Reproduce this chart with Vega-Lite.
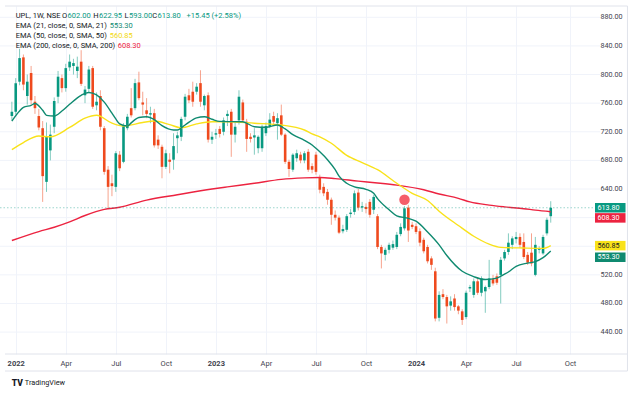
{
  "$schema": "https://vega.github.io/schema/vega-lite/v6.json",
  "width": 600,
  "height": 348,
  "autosize": {"type": "none"},
  "padding": {"left": 0, "top": 6, "right": 40, "bottom": 39},
  "background": "#ffffff",
  "config": {"view": {"stroke": null}, "font": "Roboto", "axis": {"labelOverlap": false}},
  "datasets": {
    "ticks": [
      {"v":440},{"v":480},{"v":520},{"v":560},{"v":600},{"v":640},
      {"v":680},{"v":720},{"v":760},{"v":800},{"v":840},{"v":880}
    ],
    "candles": [
      {"d":"2021-12-27","o":742,"h":762,"l":736,"c":748},
      {"d":"2022-01-03","o":748,"h":795,"l":744,"c":788},
      {"d":"2022-01-10","o":790,"h":836,"l":785,"c":823},
      {"d":"2022-01-17","o":824,"h":828,"l":778,"c":786},
      {"d":"2022-01-24","o":770,"h":800,"l":758,"c":790},
      {"d":"2022-01-31","o":802,"h":812,"l":758,"c":764},
      {"d":"2022-02-07","o":762,"h":770,"l":745,"c":753},
      {"d":"2022-02-14","o":742,"h":752,"l":722,"c":726},
      {"d":"2022-02-21","o":725,"h":735,"l":622,"c":658},
      {"d":"2022-02-28","o":650,"h":733,"l":636,"c":714},
      {"d":"2022-03-07","o":694,"h":730,"l":680,"c":716},
      {"d":"2022-03-14","o":727,"h":768,"l":718,"c":763},
      {"d":"2022-03-21","o":769,"h":805,"l":760,"c":797},
      {"d":"2022-03-28","o":795,"h":800,"l":775,"c":781},
      {"d":"2022-04-04","o":781,"h":815,"l":776,"c":809},
      {"d":"2022-04-11","o":810,"h":828,"l":805,"c":818},
      {"d":"2022-04-18","o":812,"h":822,"l":800,"c":816},
      {"d":"2022-04-25","o":805,"h":825,"l":795,"c":811},
      {"d":"2022-05-02","o":818,"h":834,"l":784,"c":787},
      {"d":"2022-05-09","o":771,"h":784,"l":760,"c":779},
      {"d":"2022-05-16","o":780,"h":812,"l":775,"c":807},
      {"d":"2022-05-23","o":809,"h":812,"l":752,"c":755},
      {"d":"2022-05-30","o":757,"h":775,"l":750,"c":762},
      {"d":"2022-06-06","o":770,"h":778,"l":722,"c":727},
      {"d":"2022-06-13","o":725,"h":728,"l":660,"c":664},
      {"d":"2022-06-20","o":667,"h":672,"l":612,"c":643},
      {"d":"2022-06-27","o":648,"h":660,"l":630,"c":644},
      {"d":"2022-07-04","o":643,"h":693,"l":636,"c":690},
      {"d":"2022-07-11","o":688,"h":693,"l":665,"c":669},
      {"d":"2022-07-18","o":678,"h":732,"l":676,"c":729},
      {"d":"2022-07-25","o":725,"h":745,"l":722,"c":741},
      {"d":"2022-08-01","o":753,"h":781,"l":740,"c":743},
      {"d":"2022-08-08","o":753,"h":794,"l":750,"c":788},
      {"d":"2022-08-15","o":789,"h":804,"l":764,"c":767},
      {"d":"2022-08-22","o":761,"h":776,"l":743,"c":758},
      {"d":"2022-08-29","o":750,"h":767,"l":739,"c":745},
      {"d":"2022-09-05","o":744,"h":755,"l":732,"c":746},
      {"d":"2022-09-12","o":746,"h":752,"l":698,"c":701},
      {"d":"2022-09-19","o":709,"h":715,"l":696,"c":701},
      {"d":"2022-09-26","o":699,"h":702,"l":655,"c":671},
      {"d":"2022-10-03","o":671,"h":695,"l":668,"c":690},
      {"d":"2022-10-10","o":681,"h":690,"l":662,"c":678},
      {"d":"2022-10-17","o":681,"h":718,"l":667,"c":700},
      {"d":"2022-10-24","o":711,"h":720,"l":690,"c":715},
      {"d":"2022-10-31","o":713,"h":741,"l":707,"c":738},
      {"d":"2022-11-07","o":741,"h":773,"l":736,"c":769},
      {"d":"2022-11-14","o":771,"h":780,"l":760,"c":764},
      {"d":"2022-11-21","o":776,"h":790,"l":755,"c":762},
      {"d":"2022-11-28","o":776,"h":788,"l":772,"c":783},
      {"d":"2022-12-05","o":788,"h":806,"l":755,"c":762},
      {"d":"2022-12-12","o":757,"h":772,"l":750,"c":770},
      {"d":"2022-12-19","o":771,"h":775,"l":705,"c":709},
      {"d":"2022-12-26","o":709,"h":720,"l":703,"c":713},
      {"d":"2023-01-02","o":716,"h":724,"l":710,"c":718},
      {"d":"2023-01-09","o":724,"h":728,"l":712,"c":717},
      {"d":"2023-01-16","o":720,"h":740,"l":715,"c":736},
      {"d":"2023-01-23","o":742,"h":750,"l":728,"c":745},
      {"d":"2023-01-30","o":748,"h":752,"l":685,"c":716},
      {"d":"2023-02-06","o":716,"h":735,"l":705,"c":727},
      {"d":"2023-02-13","o":736,"h":778,"l":730,"c":769},
      {"d":"2023-02-20","o":761,"h":765,"l":733,"c":736},
      {"d":"2023-02-27","o":734,"h":738,"l":692,"c":710},
      {"d":"2023-03-06","o":713,"h":718,"l":705,"c":710},
      {"d":"2023-03-13","o":712,"h":725,"l":688,"c":715},
      {"d":"2023-03-20","o":697,"h":715,"l":690,"c":713},
      {"d":"2023-03-27","o":697,"h":730,"l":692,"c":727},
      {"d":"2023-04-03","o":718,"h":733,"l":714,"c":728},
      {"d":"2023-04-10","o":728,"h":746,"l":725,"c":737},
      {"d":"2023-04-17","o":742,"h":748,"l":730,"c":734},
      {"d":"2023-04-24","o":732,"h":746,"l":709,"c":739},
      {"d":"2023-05-01","o":743,"h":758,"l":714,"c":716},
      {"d":"2023-05-08","o":716,"h":718,"l":675,"c":678},
      {"d":"2023-05-15","o":678,"h":681,"l":657,"c":668},
      {"d":"2023-05-22","o":667,"h":690,"l":664,"c":688},
      {"d":"2023-05-29","o":683,"h":695,"l":678,"c":690},
      {"d":"2023-06-05","o":688,"h":692,"l":676,"c":680},
      {"d":"2023-06-12","o":680,"h":693,"l":676,"c":690},
      {"d":"2023-06-19","o":692,"h":696,"l":664,"c":667},
      {"d":"2023-06-26","o":672,"h":676,"l":662,"c":667},
      {"d":"2023-07-03","o":688,"h":692,"l":660,"c":664},
      {"d":"2023-07-10","o":656,"h":660,"l":634,"c":639},
      {"d":"2023-07-17","o":643,"h":648,"l":630,"c":634},
      {"d":"2023-07-24","o":636,"h":640,"l":618,"c":625},
      {"d":"2023-07-31","o":625,"h":628,"l":590,"c":604},
      {"d":"2023-08-07","o":604,"h":610,"l":596,"c":600},
      {"d":"2023-08-14","o":600,"h":603,"l":577,"c":579},
      {"d":"2023-08-21","o":581,"h":590,"l":578,"c":584},
      {"d":"2023-08-28","o":583,"h":605,"l":580,"c":602},
      {"d":"2023-09-04","o":605,"h":612,"l":600,"c":607},
      {"d":"2023-09-11","o":608,"h":638,"l":604,"c":634},
      {"d":"2023-09-18","o":635,"h":640,"l":610,"c":614},
      {"d":"2023-09-25","o":614,"h":622,"l":608,"c":616},
      {"d":"2023-10-02","o":615,"h":620,"l":606,"c":612},
      {"d":"2023-10-09","o":622,"h":626,"l":600,"c":604},
      {"d":"2023-10-16","o":611,"h":632,"l":605,"c":629},
      {"d":"2023-10-23","o":602,"h":605,"l":556,"c":559},
      {"d":"2023-10-30","o":559,"h":562,"l":529,"c":550},
      {"d":"2023-11-06","o":548,"h":558,"l":540,"c":555},
      {"d":"2023-11-13","o":555,"h":565,"l":550,"c":562},
      {"d":"2023-11-20","o":558,"h":568,"l":555,"c":563},
      {"d":"2023-11-27","o":559,"h":580,"l":556,"c":576},
      {"d":"2023-12-04","o":577,"h":592,"l":574,"c":587},
      {"d":"2023-12-11","o":585,"h":616,"l":582,"c":613},
      {"d":"2023-12-18","o":614,"h":618,"l":566,"c":582},
      {"d":"2023-12-25","o":590,"h":594,"l":584,"c":587},
      {"d":"2024-01-01","o":588,"h":592,"l":577,"c":580},
      {"d":"2024-01-08","o":581,"h":585,"l":560,"c":565},
      {"d":"2024-01-15","o":569,"h":572,"l":550,"c":553},
      {"d":"2024-01-22","o":559,"h":562,"l":536,"c":539},
      {"d":"2024-01-29","o":543,"h":546,"l":527,"c":534},
      {"d":"2024-02-05","o":525,"h":530,"l":455,"c":459},
      {"d":"2024-02-12","o":460,"h":497,"l":455,"c":492},
      {"d":"2024-02-19","o":493,"h":500,"l":486,"c":489},
      {"d":"2024-02-26","o":489,"h":492,"l":452,"c":476},
      {"d":"2024-03-04","o":477,"h":490,"l":470,"c":483},
      {"d":"2024-03-11","o":487,"h":493,"l":470,"c":475},
      {"d":"2024-03-18","o":476,"h":478,"l":465,"c":470},
      {"d":"2024-03-25","o":469,"h":472,"l":450,"c":457},
      {"d":"2024-04-01","o":461,"h":498,"l":458,"c":495},
      {"d":"2024-04-08","o":501,"h":506,"l":496,"c":503},
      {"d":"2024-04-15","o":492,"h":515,"l":488,"c":511},
      {"d":"2024-04-22","o":511,"h":516,"l":492,"c":495},
      {"d":"2024-04-29","o":495,"h":518,"l":490,"c":515},
      {"d":"2024-05-06","o":497,"h":505,"l":467,"c":503},
      {"d":"2024-05-13","o":503,"h":541,"l":500,"c":515},
      {"d":"2024-05-20","o":514,"h":520,"l":505,"c":508},
      {"d":"2024-05-27","o":518,"h":522,"l":506,"c":509},
      {"d":"2024-06-03","o":520,"h":545,"l":480,"c":541},
      {"d":"2024-06-10","o":543,"h":555,"l":540,"c":552},
      {"d":"2024-06-17","o":552,"h":578,"l":548,"c":565},
      {"d":"2024-06-24","o":562,"h":574,"l":556,"c":571},
      {"d":"2024-07-01","o":570,"h":580,"l":564,"c":573},
      {"d":"2024-07-08","o":573,"h":578,"l":558,"c":562},
      {"d":"2024-07-15","o":566,"h":578,"l":542,"c":545},
      {"d":"2024-07-22","o":548,"h":552,"l":534,"c":537},
      {"d":"2024-07-29","o":551,"h":578,"l":532,"c":536},
      {"d":"2024-08-05","o":520,"h":573,"l":518,"c":562},
      {"d":"2024-08-12","o":555,"h":560,"l":550,"c":557},
      {"d":"2024-08-19","o":550,"h":576,"l":548,"c":573},
      {"d":"2024-08-26","o":578,"h":600,"l":575,"c":597},
      {"d":"2024-09-02","o":602,"h":622.95,"l":593,"c":613.8}
    ],
    "ema": [
      {"s":"EMA200","d":"2021-12-27","v":568},
      {"s":"EMA200","d":"2022-02-14","v":580.5},
      {"s":"EMA200","d":"2022-03-14","v":586.5},
      {"s":"EMA200","d":"2022-04-11","v":594},
      {"s":"EMA200","d":"2022-05-09","v":603},
      {"s":"EMA200","d":"2022-06-13","v":611.5},
      {"s":"EMA200","d":"2022-07-11","v":614.5},
      {"s":"EMA200","d":"2022-08-29","v":624.5},
      {"s":"EMA200","d":"2022-10-24","v":632},
      {"s":"EMA200","d":"2022-12-26","v":640},
      {"s":"EMA200","d":"2023-01-23","v":643},
      {"s":"EMA200","d":"2023-03-13","v":648},
      {"s":"EMA200","d":"2023-05-01","v":653.5},
      {"s":"EMA200","d":"2023-06-12","v":655.5},
      {"s":"EMA200","d":"2023-07-10","v":656},
      {"s":"EMA200","d":"2023-08-07","v":654.5},
      {"s":"EMA200","d":"2023-09-18","v":651},
      {"s":"EMA200","d":"2023-10-23","v":648.5},
      {"s":"EMA200","d":"2023-11-27","v":645.5},
      {"s":"EMA200","d":"2024-01-15","v":639},
      {"s":"EMA200","d":"2024-02-12","v":633},
      {"s":"EMA200","d":"2024-03-18","v":627},
      {"s":"EMA200","d":"2024-04-08","v":622},
      {"s":"EMA200","d":"2024-05-13","v":617.5},
      {"s":"EMA200","d":"2024-06-10","v":615},
      {"s":"EMA200","d":"2024-07-15","v":612.5},
      {"s":"EMA200","d":"2024-08-05","v":610.5},
      {"s":"EMA200","d":"2024-09-02","v":608.3},
      {"s":"EMA50","d":"2021-12-27","v":695},
      {"s":"EMA50","d":"2022-01-17","v":705},
      {"s":"EMA50","d":"2022-02-14","v":714},
      {"s":"EMA50","d":"2022-03-07","v":713},
      {"s":"EMA50","d":"2022-04-11","v":726},
      {"s":"EMA50","d":"2022-05-09","v":739},
      {"s":"EMA50","d":"2022-05-30","v":743},
      {"s":"EMA50","d":"2022-06-27","v":732},
      {"s":"EMA50","d":"2022-07-18","v":728},
      {"s":"EMA50","d":"2022-08-22","v":733},
      {"s":"EMA50","d":"2022-09-12","v":735},
      {"s":"EMA50","d":"2022-10-10","v":730},
      {"s":"EMA50","d":"2022-10-31","v":725.5},
      {"s":"EMA50","d":"2022-11-28","v":731},
      {"s":"EMA50","d":"2022-12-26","v":734},
      {"s":"EMA50","d":"2023-01-23","v":734},
      {"s":"EMA50","d":"2023-03-13","v":732},
      {"s":"EMA50","d":"2023-05-01","v":729.5},
      {"s":"EMA50","d":"2023-06-12","v":722.5},
      {"s":"EMA50","d":"2023-06-26","v":717},
      {"s":"EMA50","d":"2023-07-10","v":713},
      {"s":"EMA50","d":"2023-07-31","v":704},
      {"s":"EMA50","d":"2023-08-28","v":687},
      {"s":"EMA50","d":"2023-09-25","v":677},
      {"s":"EMA50","d":"2023-10-23","v":667},
      {"s":"EMA50","d":"2023-11-27","v":648},
      {"s":"EMA50","d":"2023-12-25","v":634},
      {"s":"EMA50","d":"2024-01-22","v":624},
      {"s":"EMA50","d":"2024-02-12","v":609},
      {"s":"EMA50","d":"2024-03-18","v":589},
      {"s":"EMA50","d":"2024-04-15","v":574},
      {"s":"EMA50","d":"2024-05-13","v":563},
      {"s":"EMA50","d":"2024-06-03","v":558.5},
      {"s":"EMA50","d":"2024-07-15","v":557.5},
      {"s":"EMA50","d":"2024-08-19","v":557},
      {"s":"EMA50","d":"2024-09-02","v":560.85},
      {"s":"EMA21","d":"2021-12-27","v":735},
      {"s":"EMA21","d":"2022-01-10","v":749},
      {"s":"EMA21","d":"2022-01-17","v":754},
      {"s":"EMA21","d":"2022-01-31","v":757},
      {"s":"EMA21","d":"2022-02-07","v":759.5},
      {"s":"EMA21","d":"2022-02-21","v":750},
      {"s":"EMA21","d":"2022-02-28","v":743},
      {"s":"EMA21","d":"2022-03-14","v":742},
      {"s":"EMA21","d":"2022-03-28","v":749},
      {"s":"EMA21","d":"2022-04-11","v":758.5},
      {"s":"EMA21","d":"2022-05-02","v":771},
      {"s":"EMA21","d":"2022-05-16","v":775},
      {"s":"EMA21","d":"2022-05-30","v":771.5},
      {"s":"EMA21","d":"2022-06-13","v":761.5},
      {"s":"EMA21","d":"2022-06-27","v":746},
      {"s":"EMA21","d":"2022-07-04","v":738},
      {"s":"EMA21","d":"2022-07-11","v":731},
      {"s":"EMA21","d":"2022-07-25","v":728},
      {"s":"EMA21","d":"2022-08-01","v":732.5},
      {"s":"EMA21","d":"2022-08-15","v":740},
      {"s":"EMA21","d":"2022-08-29","v":741},
      {"s":"EMA21","d":"2022-09-12","v":737},
      {"s":"EMA21","d":"2022-09-26","v":728.5},
      {"s":"EMA21","d":"2022-10-17","v":722.5},
      {"s":"EMA21","d":"2022-10-24","v":722.5},
      {"s":"EMA21","d":"2022-11-07","v":729.5},
      {"s":"EMA21","d":"2022-11-28","v":739.5},
      {"s":"EMA21","d":"2022-12-12","v":741},
      {"s":"EMA21","d":"2022-12-26","v":737.5},
      {"s":"EMA21","d":"2023-01-09","v":734.5},
      {"s":"EMA21","d":"2023-02-20","v":734},
      {"s":"EMA21","d":"2023-03-13","v":727},
      {"s":"EMA21","d":"2023-04-03","v":726.3},
      {"s":"EMA21","d":"2023-04-24","v":729.5},
      {"s":"EMA21","d":"2023-05-08","v":724},
      {"s":"EMA21","d":"2023-05-22","v":716},
      {"s":"EMA21","d":"2023-06-12","v":708},
      {"s":"EMA21","d":"2023-06-26","v":701.5},
      {"s":"EMA21","d":"2023-07-10","v":692},
      {"s":"EMA21","d":"2023-07-24","v":681},
      {"s":"EMA21","d":"2023-08-07","v":667},
      {"s":"EMA21","d":"2023-08-14","v":658},
      {"s":"EMA21","d":"2023-08-28","v":648},
      {"s":"EMA21","d":"2023-09-11","v":643},
      {"s":"EMA21","d":"2023-10-02","v":639.6},
      {"s":"EMA21","d":"2023-10-16","v":634},
      {"s":"EMA21","d":"2023-10-23","v":626.5},
      {"s":"EMA21","d":"2023-11-13","v":611},
      {"s":"EMA21","d":"2023-11-27","v":602.5},
      {"s":"EMA21","d":"2023-12-18","v":599},
      {"s":"EMA21","d":"2024-01-01","v":595},
      {"s":"EMA21","d":"2024-01-22","v":580},
      {"s":"EMA21","d":"2024-02-12","v":562},
      {"s":"EMA21","d":"2024-02-26","v":547},
      {"s":"EMA21","d":"2024-03-25","v":525},
      {"s":"EMA21","d":"2024-04-15","v":517.5},
      {"s":"EMA21","d":"2024-05-06","v":513.5},
      {"s":"EMA21","d":"2024-05-27","v":515.5},
      {"s":"EMA21","d":"2024-06-10","v":521},
      {"s":"EMA21","d":"2024-06-17","v":524},
      {"s":"EMA21","d":"2024-07-01","v":532},
      {"s":"EMA21","d":"2024-07-22","v":536.5},
      {"s":"EMA21","d":"2024-08-05","v":538.5},
      {"s":"EMA21","d":"2024-08-19","v":544},
      {"s":"EMA21","d":"2024-09-02","v":553.3}
    ],
    "boxes": [
      {"s":"close","v":613.8,"t":"613.80"},
      {"s":"EMA200","v":608.3,"t":"608.30"},
      {"s":"EMA50","v":560.85,"t":"560.85"},
      {"s":"EMA21","v":553.3,"t":"553.30"}
    ],
    "signal": [{"d":"2023-12-11","p":625}]
  },
  "layer": [
    {
      "data": {"name": "ticks"},
      "layer": [
        {
          "mark": {"type": "rule", "color": "#f0f3fa", "strokeWidth": 1},
          "encoding": {
            "y": {"field": "v", "type": "quantitative", "axis": null,
                  "scale": {"domain": [409.4, 895.8], "nice": false, "zero": false}}
          }
        },
        {
          "transform": [{"filter": "datum.v != 560 && datum.v != 600"}],
          "mark": {"type": "text", "align": "left", "baseline": "middle", "fontSize": 7.2, "font": "Roboto", "color": "#3f434e", "dx": 5.5},
          "encoding": {
            "x": {"datum": {"year": 2024, "month": 11, "date": 21, "hours": 11, "minutes": 30, "utc": true}, "type": "temporal"},
            "y": {"field": "v", "type": "quantitative", "axis": null},
            "text": {"field": "v", "type": "quantitative", "format": ".2f"}
          }
        }
      ]
    },
    {
      "data": {"name": "candles"},
      "layer": [
        {
          "mark": {"type": "rule", "strokeWidth": 1, "opacity": 0.5},
          "encoding": {
            "x": {
              "field": "d", "type": "temporal",
              "scale": {"type": "utc", "domain": [
                {"year": 2021, "month": 12, "date": 14, "hours": 12, "utc": true},
                {"year": 2024, "month": 11, "date": 21, "hours": 11, "minutes": 30, "utc": true}
              ]},
              "axis": {
                "title": null,
                "values": [
                  {"year": 2022, "month": 1, "date": 3, "utc": true},
                  {"year": 2022, "month": 4, "date": 4, "utc": true},
                  {"year": 2022, "month": 7, "date": 4, "utc": true},
                  {"year": 2022, "month": 10, "date": 3, "utc": true},
                  {"year": 2023, "month": 1, "date": 2, "utc": true},
                  {"year": 2023, "month": 4, "date": 3, "utc": true},
                  {"year": 2023, "month": 7, "date": 3, "utc": true},
                  {"year": 2023, "month": 10, "date": 2, "utc": true},
                  {"year": 2024, "month": 1, "date": 1, "utc": true},
                  {"year": 2024, "month": 4, "date": 1, "utc": true},
                  {"year": 2024, "month": 7, "date": 1, "utc": true},
                  {"year": 2024, "month": 10, "date": 7, "utc": true}
                ],
                "labelExpr": "utcmonth(datum.value) == 0 ? utcFormat(datum.value, '%Y') : utcFormat(datum.value, '%b')",
                "labelFontWeight": {"condition": {"test": "utcmonth(datum.value) == 0", "value": "bold"}, "value": "normal"},
                "grid": true, "gridColor": "#f0f3fa", "ticks": false, "domain": false,
                "labelPadding": 5, "labelFontSize": 7.5, "labelColor": "#3f434e",
                "labelFont": "Roboto", "labelOverlap": false, "labelFlush": false
              }
            },
            "y": {"field": "l", "type": "quantitative", "axis": null},
            "y2": {"field": "h"},
            "color": {"condition": {"test": "datum.c >= datum.o", "value": "#089981"}, "value": "#ef4a1e"}
          }
        },
        {
          "mark": {"type": "bar", "size": 2.6},
          "encoding": {
            "x": {"field": "d", "type": "temporal"},
            "y": {"field": "o", "type": "quantitative", "axis": null},
            "y2": {"field": "c"},
            "color": {"condition": {"test": "datum.c >= datum.o", "value": "#089981"}, "value": "#ef4a1e"}
          }
        }
      ]
    },
    {
      "data": {"name": "ema"},
      "mark": {"type": "line", "interpolate": "monotone", "strokeWidth": 1.4},
      "encoding": {
        "x": {"field": "d", "type": "temporal"},
        "y": {"field": "v", "type": "quantitative", "axis": null},
        "color": {"field": "s", "type": "nominal", "legend": null,
          "scale": {"domain": ["EMA21", "EMA50", "EMA200", "close"], "range": ["#0f8a70", "#f9e21a", "#ec2340", "#089981"]}}
      }
    },
    {
      "data": {"values": [{}]},
      "mark": {"type": "rule", "strokeDash": [1.5, 2], "strokeWidth": 0.8, "color": "#089981", "opacity": 0.5},
      "encoding": {"y": {"datum": 613.8, "axis": null}}
    },
    {
      "data": {"values": [{}]},
      "layer": [
        {"mark": {"type": "rule", "color": "#e0e3eb", "strokeWidth": 1},
         "encoding": {"x": {"datum": {"year": 2021, "month": 12, "date": 14, "hours": 12, "utc": true}, "type": "temporal"},
                      "x2": {"datum": {"year": 2025, "month": 1, "date": 19, "hours": 12, "utc": true}},
                      "y": {"datum": 895.8, "axis": null}}},
        {"mark": {"type": "rule", "color": "#e0e3eb", "strokeWidth": 1},
         "encoding": {"x": {"datum": {"year": 2021, "month": 12, "date": 14, "hours": 12, "utc": true}, "type": "temporal"},
                      "x2": {"datum": {"year": 2025, "month": 1, "date": 19, "hours": 12, "utc": true}},
                      "y": {"datum": 409.4, "axis": null}}},
        {"mark": {"type": "rule", "color": "#e0e3eb", "strokeWidth": 1},
         "encoding": {"x": {"datum": {"year": 2021, "month": 12, "date": 14, "hours": 12, "utc": true}, "type": "temporal"},
                      "x2": {"datum": {"year": 2025, "month": 1, "date": 19, "hours": 12, "utc": true}},
                      "y": {"datum": 385.6, "axis": null}}},
        {"mark": {"type": "rule", "color": "#e0e3eb", "strokeWidth": 1},
         "encoding": {"x": {"datum": {"year": 2025, "month": 1, "date": 19, "hours": 12, "utc": true}, "type": "temporal"},
                      "y": {"datum": 895.8, "axis": null}, "y2": {"datum": 385.6}}}
      ]
    },
    {
      "data": {"name": "signal"},
      "mark": {"type": "point", "filled": true, "size": 110, "color": "#f23645", "opacity": 0.8},
      "encoding": {
        "x": {"field": "d", "type": "temporal"},
        "y": {"field": "p", "type": "quantitative", "axis": null}
      }
    },
    {
      "data": {"name": "boxes"},
      "layer": [
        {
          "transform": [{"filter": "datum.s == 'close' || datum.s == 'EMA50'"}],
          "mark": {"type": "rule", "strokeWidth": 9.5, "strokeCap": "butt"},
          "encoding": {
            "x": {"datum": {"year": 2024, "month": 11, "date": 21, "hours": 11, "minutes": 30, "utc": true}, "type": "temporal"},
            "x2": {"datum": {"year": 2025, "month": 1, "date": 16, "utc": true}},
            "y": {"field": "v", "type": "quantitative", "axis": null},
            "color": {"field": "s", "type": "nominal", "legend": null,
              "scale": {"domain": ["EMA21", "EMA50", "EMA200", "close"], "range": ["#0f8a70", "#f9e21a", "#ec2340", "#089981"]}}
          }
        },
        {
          "transform": [{"filter": "datum.s == 'EMA200' || datum.s == 'EMA21'"}],
          "mark": {"type": "rule", "strokeWidth": 9.5, "strokeCap": "butt", "yOffset": 6.2},
          "encoding": {
            "x": {"datum": {"year": 2024, "month": 11, "date": 21, "hours": 11, "minutes": 30, "utc": true}, "type": "temporal"},
            "x2": {"datum": {"year": 2025, "month": 1, "date": 16, "utc": true}},
            "y": {"field": "v", "type": "quantitative", "axis": null},
            "color": {"field": "s", "type": "nominal", "legend": null,
              "scale": {"domain": ["EMA21", "EMA50", "EMA200", "close"], "range": ["#0f8a70", "#f9e21a", "#ec2340", "#089981"]}}
          }
        },
        {
          "transform": [{"filter": "datum.s == 'close' || datum.s == 'EMA50'"}],
          "mark": {"type": "text", "align": "left", "baseline": "middle", "fontSize": 7.2, "font": "Roboto", "dx": 2.5},
          "encoding": {
            "x": {"datum": {"year": 2024, "month": 11, "date": 21, "hours": 11, "minutes": 30, "utc": true}, "type": "temporal"},
            "y": {"field": "v", "type": "quantitative", "axis": null},
            "text": {"field": "t"},
            "color": {"condition": {"test": "datum.s == 'EMA50'", "value": "#131722"}, "value": "#ffffff"}
          }
        },
        {
          "transform": [{"filter": "datum.s == 'EMA200' || datum.s == 'EMA21'"}],
          "mark": {"type": "text", "align": "left", "baseline": "middle", "fontSize": 7.2, "font": "Roboto", "dx": 2.5, "dy": 6.2},
          "encoding": {
            "x": {"datum": {"year": 2024, "month": 11, "date": 21, "hours": 11, "minutes": 30, "utc": true}, "type": "temporal"},
            "y": {"field": "v", "type": "quantitative", "axis": null},
            "text": {"field": "t"},
            "color": {"value": "#ffffff"}
          }
        }
      ]
    },
    {
      "data": {"values": [{}]},
      "layer": [
        {"mark": {"type": "text", "align": "left", "baseline": "middle", "fontSize": 7.5, "font": "Roboto", "color": "#131722"},
         "encoding": {"x": {"datum": {"year": 2022, "month": 1, "date": 3, "utc": true}, "type": "temporal"}, "y": {"datum": 882.2, "axis": null}, "text": {"value": "UPL, 1W, NSE"}}},
        {"mark": {"type": "text", "align": "left", "baseline": "middle", "fontSize": 7.5, "font": "Roboto", "color": "#131722", "dx": 46.4},
         "encoding": {"x": {"datum": {"year": 2022, "month": 1, "date": 3, "utc": true}, "type": "temporal"}, "y": {"datum": 882.2, "axis": null}, "text": {"value": "O"}}},
        {"mark": {"type": "text", "align": "left", "baseline": "middle", "fontSize": 7.5, "font": "Roboto", "color": "#089981", "dx": 51.9},
         "encoding": {"x": {"datum": {"year": 2022, "month": 1, "date": 3, "utc": true}, "type": "temporal"}, "y": {"datum": 882.2, "axis": null}, "text": {"value": "602.00"}}},
        {"mark": {"type": "text", "align": "left", "baseline": "middle", "fontSize": 7.5, "font": "Roboto", "color": "#131722", "dx": 77.6},
         "encoding": {"x": {"datum": {"year": 2022, "month": 1, "date": 3, "utc": true}, "type": "temporal"}, "y": {"datum": 882.2, "axis": null}, "text": {"value": "H"}}},
        {"mark": {"type": "text", "align": "left", "baseline": "middle", "fontSize": 7.5, "font": "Roboto", "color": "#089981", "dx": 83.3},
         "encoding": {"x": {"datum": {"year": 2022, "month": 1, "date": 3, "utc": true}, "type": "temporal"}, "y": {"datum": 882.2, "axis": null}, "text": {"value": "622.95"}}},
        {"mark": {"type": "text", "align": "left", "baseline": "middle", "fontSize": 7.5, "font": "Roboto", "color": "#131722", "dx": 108.8},
         "encoding": {"x": {"datum": {"year": 2022, "month": 1, "date": 3, "utc": true}, "type": "temporal"}, "y": {"datum": 882.2, "axis": null}, "text": {"value": "L"}}},
        {"mark": {"type": "text", "align": "left", "baseline": "middle", "fontSize": 7.5, "font": "Roboto", "color": "#089981", "dx": 113.4},
         "encoding": {"x": {"datum": {"year": 2022, "month": 1, "date": 3, "utc": true}, "type": "temporal"}, "y": {"datum": 882.2, "axis": null}, "text": {"value": "593.00"}}},
        {"mark": {"type": "text", "align": "left", "baseline": "middle", "fontSize": 7.5, "font": "Roboto", "color": "#131722", "dx": 136.6},
         "encoding": {"x": {"datum": {"year": 2022, "month": 1, "date": 3, "utc": true}, "type": "temporal"}, "y": {"datum": 882.2, "axis": null}, "text": {"value": "C"}}},
        {"mark": {"type": "text", "align": "left", "baseline": "middle", "fontSize": 7.5, "font": "Roboto", "color": "#089981", "dx": 141.9},
         "encoding": {"x": {"datum": {"year": 2022, "month": 1, "date": 3, "utc": true}, "type": "temporal"}, "y": {"datum": 882.2, "axis": null}, "text": {"value": "613.80"}}},
        {"mark": {"type": "text", "align": "left", "baseline": "middle", "fontSize": 7.5, "font": "Roboto", "color": "#089981", "dx": 170.8},
         "encoding": {"x": {"datum": {"year": 2022, "month": 1, "date": 3, "utc": true}, "type": "temporal"}, "y": {"datum": 882.2, "axis": null}, "text": {"value": "+15.45 (+2.58%)"}}},
        {"mark": {"type": "text", "align": "left", "baseline": "middle", "fontSize": 7.5, "font": "Roboto", "color": "#131722"},
         "encoding": {"x": {"datum": {"year": 2022, "month": 1, "date": 3, "utc": true}, "type": "temporal"}, "y": {"datum": 868.3, "axis": null}, "text": {"value": "EMA (21, close, 0, SMA, 21)"}}},
        {"mark": {"type": "text", "align": "left", "baseline": "middle", "fontSize": 7.5, "font": "Roboto", "color": "#0f8a70", "dx": 94},
         "encoding": {"x": {"datum": {"year": 2022, "month": 1, "date": 3, "utc": true}, "type": "temporal"}, "y": {"datum": 868.3, "axis": null}, "text": {"value": "553.30"}}},
        {"mark": {"type": "text", "align": "left", "baseline": "middle", "fontSize": 7.5, "font": "Roboto", "color": "#131722"},
         "encoding": {"x": {"datum": {"year": 2022, "month": 1, "date": 3, "utc": true}, "type": "temporal"}, "y": {"datum": 854.3, "axis": null}, "text": {"value": "EMA (50, close, 0, SMA, 50)"}}},
        {"mark": {"type": "text", "align": "left", "baseline": "middle", "fontSize": 7.5, "font": "Roboto", "color": "#f2d90f", "dx": 94},
         "encoding": {"x": {"datum": {"year": 2022, "month": 1, "date": 3, "utc": true}, "type": "temporal"}, "y": {"datum": 854.3, "axis": null}, "text": {"value": "560.85"}}},
        {"mark": {"type": "text", "align": "left", "baseline": "middle", "fontSize": 7.5, "font": "Roboto", "color": "#131722"},
         "encoding": {"x": {"datum": {"year": 2022, "month": 1, "date": 3, "utc": true}, "type": "temporal"}, "y": {"datum": 839.9, "axis": null}, "text": {"value": "EMA (200, close, 0, SMA, 200)"}}},
        {"mark": {"type": "text", "align": "left", "baseline": "middle", "fontSize": 7.5, "font": "Roboto", "color": "#ec2340", "dx": 102},
         "encoding": {"x": {"datum": {"year": 2022, "month": 1, "date": 3, "utc": true}, "type": "temporal"}, "y": {"datum": 839.9, "axis": null}, "text": {"value": "608.30"}}},
        {"mark": {"type": "text", "align": "left", "baseline": "middle", "fontSize": 8.5, "font": "Roboto", "fontWeight": 900, "color": "#131722"},
         "encoding": {"x": {"datum": {"year": 2021, "month": 12, "date": 27, "utc": true}, "type": "temporal"}, "y": {"datum": 368.9, "axis": null}, "text": {"value": "TV"}}},
        {"mark": {"type": "text", "align": "left", "baseline": "middle", "fontSize": 7.3, "font": "Roboto", "color": "#131722", "dx": 13},
         "encoding": {"x": {"datum": {"year": 2021, "month": 12, "date": 27, "utc": true}, "type": "temporal"}, "y": {"datum": 368.9, "axis": null}, "text": {"value": "TradingView"}}}
      ]
    }
  ]
}
